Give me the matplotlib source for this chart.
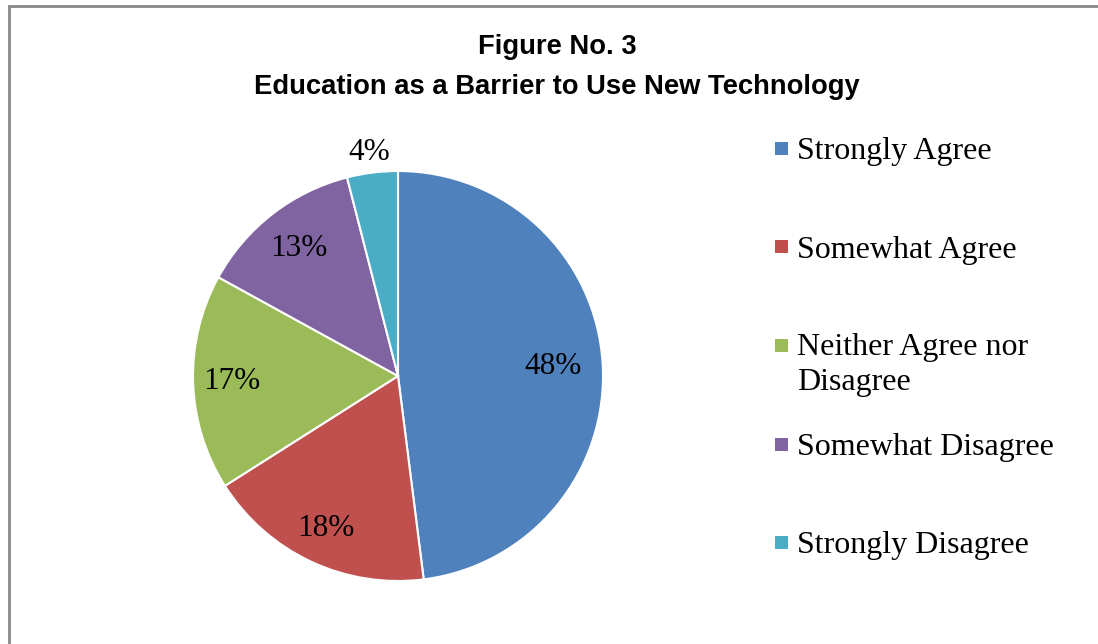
import matplotlib
matplotlib.use("Agg")
import matplotlib.pyplot as plt
from matplotlib.patches import Rectangle
import numpy as np

categories = [
    "Strongly Agree",
    "Somewhat Agree",
    "Neither Agree nor\nDisagree",
    "Somewhat Disagree",
    "Strongly Disagree",
]
shares = [48, 18, 17, 13, 4]
colors = ["#4F81BD", "#C0504D", "#9BBB59", "#8064A2", "#4BACC6"]

W, H = 1098, 644


def fx(x):
    return x / W


def fy(y):
    return 1 - y / H


fig = plt.figure(figsize=(W / 100, H / 100), dpi=100)

# chart border (left and top only visible, the rest is cropped)
fig.patches.append(Rectangle((fx(9), fy(700)), fx(1200), fy(6) - fy(700),
                             transform=fig.transFigure, fill=False,
                             edgecolor="#878787", linewidth=2))

# pie
cx, cy, r = 398, 376, 205
ax = fig.add_axes([fx(cx - r), fy(cy + r), fx(2 * r), fy(cy - r) - fy(cy + r)])
wedges, _ = ax.pie(shares, colors=colors, startangle=90, counterclock=False,
                   wedgeprops=dict(edgecolor="white", linewidth=1.5))
ax.set_xlim(-1, 1)
ax.set_ylim(-1, 1)
ax.set_aspect("auto")
ax.axis("off")

label_dist = [0.76, 0.82, 0.81, 0.79, 1.10]
for w, v, d in zip(wedges, shares, label_dist):
    ang = np.deg2rad((w.theta1 + w.theta2) / 2)
    ax.text(d * np.cos(ang), d * np.sin(ang), f"{v}%", ha="center", va="center",
            fontsize=22.5, family="Liberation Serif")

# title
fig.text(fx(557), fy(47), "Figure No. 3", ha="center", va="center",
         fontsize=19.7, fontweight="bold", family="Liberation Sans")
fig.text(fx(557), fy(87), "Education as a Barrier to Use New Technology",
         ha="center", va="center", fontsize=19.7, fontweight="bold",
         family="Liberation Sans")

# legend (square sits on the first line, extra lines hang below)
line_gap = 34
for i, (lab, c) in enumerate(zip(categories, colors)):
    base = 159 + 98.5 * i
    fig.patches.append(Rectangle((fx(775), fy(base - 4)), fx(13), fy(0) - fy(13),
                                 transform=fig.transFigure, facecolor=c,
                                 edgecolor="none"))
    extra = lab.count("\n") * line_gap
    fig.text(fx(797), fy(base + extra), lab, ha="left", va="baseline",
             fontsize=23, family="Liberation Serif", linespacing=1.26)

fig.savefig("out.png", dpi=100, facecolor="white")
